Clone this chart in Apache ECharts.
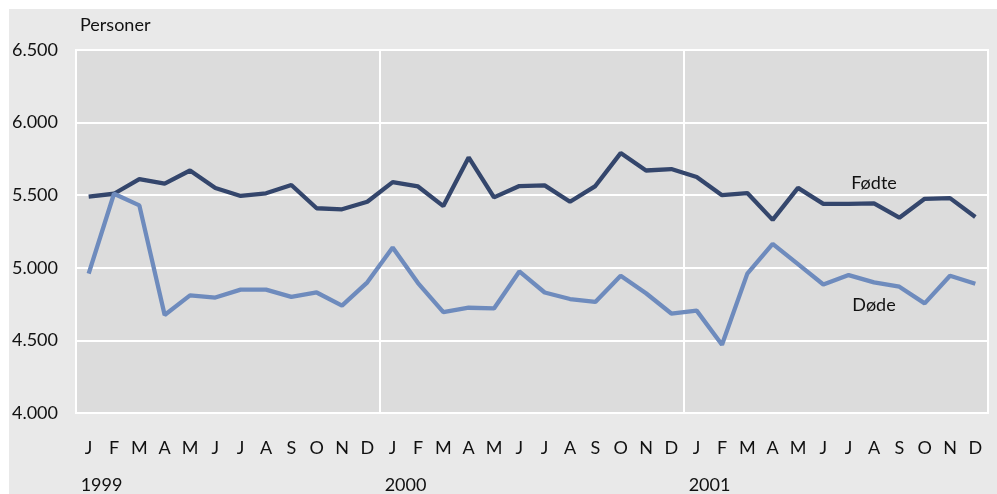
<!DOCTYPE html>
<html>
<head>
<meta charset="utf-8">
<script src="https://cdn.jsdelivr.net/npm/echarts@6/dist/echarts.min.js"></script>
<style>
html,body{margin:0;padding:0;background:#fff;}
#c{width:997px;height:494px;}
</style>
</head>
<body>
<div id="c"></div>
<script>
const months = ['J','F','M','A','M','J','J','A','S','O','N','D',
                'J','F','M','A','M','J','J','A','S','O','N','D',
                'J','F','M','A','M','J','J','A','S','O','N','D'];
const years = ['1999','2000','2001'];
const yearStartIndex = [0, 12, 24];
const fodte = [5490,5510,5610,5580,5670,5550,5495,5513,5570,5410,5403,5455,
               5590,5560,5425,5760,5485,5563,5568,5455,5563,5790,5670,5680,
               5625,5500,5515,5330,5550,5440,5440,5444,5345,5475,5480,5350];
const dode = [4960,5510,5430,4675,4810,4795,4850,4850,4800,4830,4740,4900,
              5140,4895,4695,4725,4720,4975,4830,4785,4765,4945,4825,4685,
              4705,4470,4960,5165,5025,4885,4950,4900,4870,4755,4945,4890];
const yTicks = {min:4000, max:6500, interval:500};
const seriesNames = ['Fødte','Døde'];
const labelIndex = 31;

const FONT = "Lato, 'Liberation Sans', sans-serif";
const FS = 18;

const chart = echarts.init(document.getElementById('c'), null, {renderer:'canvas'});

function seriesFor(name, data, color, pos){
  return {name:name, type:'line', data:data, symbol:'none',
    lineStyle:{color:color, width:4.3}, itemStyle:{color:color},
    markPoint:{symbol:'circle', symbolSize:0,
      data:[{coord:[labelIndex, data[labelIndex]], value:name}],
      label:{show:true, position:pos, distance:pos==='top'?11:14, formatter:name, color:'#111', fontFamily:FONT, fontSize:FS}}};
}

const bg = {type:'rect', z:-10, shape:{x:9,y:9,width:1000,height:500}, style:{fill:'#e9e9e9'}};
chart.setOption({
  backgroundColor:'#ffffff',
  animation:false,
  graphic:[bg],
  grid:{left:76, right:9, top:50, bottom:81, show:true, backgroundColor:'#dcdcdc', borderColor:'#ffffff', borderWidth:2},
  xAxis:{type:'category', data:months, boundaryGap:true,
    axisLine:{show:false}, axisTick:{show:false},
    splitLine:{show:true, interval:(i)=> i%12===0, lineStyle:{color:'#ffffff', width:2}},
    axisLabel:{interval:0, margin:26, color:'#111', fontFamily:FONT, fontSize:FS}},
  yAxis:{type:'value', min:yTicks.min, max:yTicks.max, interval:yTicks.interval,
    name:'Personer', nameLocation:'end', nameGap:16,
    nameTextStyle:{color:'#111', fontFamily:FONT, fontSize:FS, align:'left', padding:[0,0,0,4]},
    axisLine:{show:false}, axisTick:{show:false},
    splitLine:{lineStyle:{color:'#ffffff', width:2}},
    axisLabel:{margin:18, color:'#111', fontFamily:FONT, fontSize:FS,
      formatter:(v)=> v.toLocaleString('de-DE')}},
  series:[
    seriesFor(seriesNames[0], fodte, '#34466c', 'top'),
    seriesFor(seriesNames[1], dode, '#6e8bbd', 'bottom')
  ]
});
const yearGraphics = years.map((y,k)=>{
  const px = chart.convertToPixel({xAxisIndex:0}, yearStartIndex[k]);
  return {type:'text', left:px-8, top:476, style:{text:y, fill:'#111', font:FS+'px '+FONT}};
});
chart.setOption({graphic:[bg].concat(yearGraphics)});
</script>
</body>
</html>
